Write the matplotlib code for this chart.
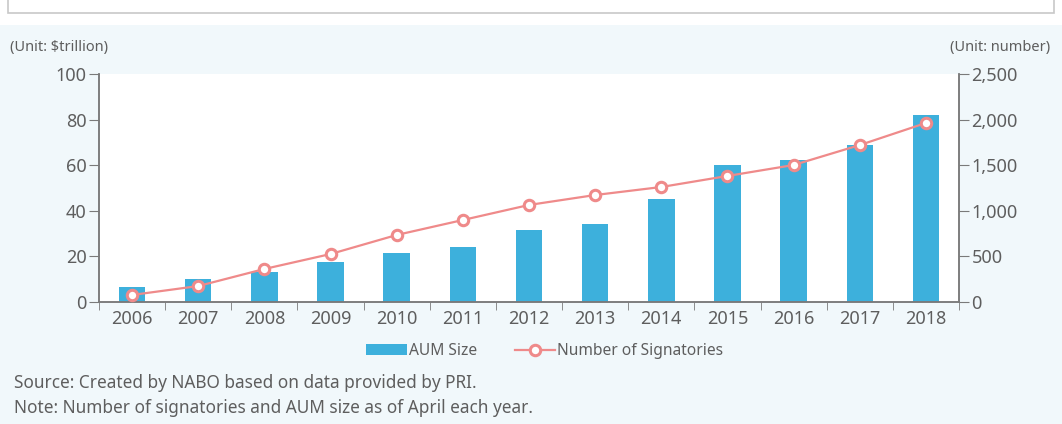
import matplotlib
matplotlib.use("Agg")
from matplotlib import pyplot as plt
from matplotlib.patches import Rectangle
import numpy as np

years = ['2006', '2007', '2008', '2009', '2010', '2011', '2012',
         '2013', '2014', '2015', '2016', '2017', '2018']
aum = [6.5, 10, 13.2, 17.5, 21.5, 24, 31.5, 34, 45, 60, 62.3, 69, 82]
signatories = [77, 175, 362, 526, 735, 899, 1064, 1173, 1261, 1382, 1502, 1721, 1963]

bar_color = '#3db0dc'
line_color = '#ef8a8a'
text_color = '#5e5e5e'
axis_color = '#7a7a7a'
bg = '#f1f8fb'

plt.rcParams['font.family'] = ['Noto Sans', 'DejaVu Sans']

fig = plt.figure(figsize=(10.62, 4.24), dpi=100)
fig.patch.set_facecolor(bg)

# white strip with the title box at the top
fig.patches.append(Rectangle((0, (424 - 25) / 424), 1, 25 / 424, transform=fig.transFigure,
                             facecolor='white', edgecolor='none', zorder=-5))
fig.patches.append(Rectangle((0.008, (424 - 13) / 424), 0.984, 0.06, transform=fig.transFigure,
                             facecolor='white', edgecolor='#c8c8c8', linewidth=1.2, zorder=-4))

ax = fig.add_axes([99 / 1062, (424 - 302) / 424, (959 - 99) / 1062, (302 - 74) / 424])
ax.set_facecolor('white')
x = np.arange(len(years))

bars = ax.bar(x, aum, width=0.4, color=bar_color, label='AUM Size', zorder=2)
ax.set_xlim(-0.5, len(years) - 0.5)
ax.set_ylim(0, 100)
ax.set_yticks([0, 20, 40, 60, 80, 100])

ax2 = ax.twinx()
line, = ax2.plot(x, signatories, color=line_color, lw=1.6, marker='o', ms=7.5,
                 mfc='white', mec=line_color, mew=2.2, label='Number of Signatories', zorder=3)
ax2.set_ylim(0, 2500)
ax2.set_yticks([0, 500, 1000, 1500, 2000, 2500])
ax2.set_yticklabels(['0', '500', '1,000', '1,500', '2,000', '2,500'])

ax.set_xticks(x)
ax.set_xticklabels(years)
ax.set_xticks(np.arange(-0.5, len(years), 1), minor=True)
ax.tick_params(axis='x', which='major', length=0, labelsize=13, colors=text_color, pad=6)
ax.tick_params(axis='x', which='minor', length=6, color=axis_color, direction='out')
ax.tick_params(axis='y', length=7, color=axis_color, labelsize=13, labelcolor=text_color, pad=2)
ax2.tick_params(axis='y', length=7, color=axis_color, labelsize=13, labelcolor=text_color, pad=2)
for lbl in ax.get_xticklabels() + ax.get_yticklabels() + ax2.get_yticklabels():
    lbl.set_fontweight('light')

for a in (ax, ax2):
    a.spines['top'].set_visible(False)
    for s in ('left', 'right', 'bottom'):
        a.spines[s].set_color(axis_color)
        a.spines[s].set_linewidth(1.1)

fig.text(10 / 1062, 1 - 47 / 424, '(Unit: $trillion)', fontsize=10.5, color=text_color, va='center')
fig.text(1050 / 1062, 1 - 47 / 424, '(Unit: number)', fontsize=10.5, color=text_color,
         va='center', ha='right')

leg = fig.legend([bars, line], ['AUM Size', 'Number of Signatories'], loc='center',
                 bbox_to_anchor=(545 / 1062, 1 - 351 / 424), ncol=2, frameon=False,
                 fontsize=11.2, labelcolor=text_color, handlelength=2.6, handletextpad=0.15,
                 columnspacing=2.4)

fig.text(14 / 1062, 1 - 383 / 424, 'Source: Created by NABO based on data provided by PRI.',
         fontsize=12.4, color=text_color, va='center')
fig.text(14 / 1062, 1 - 408 / 424, 'Note: Number of signatories and AUM size as of April each year.',
         fontsize=12.4, color=text_color, va='center')

fig.savefig('out.png', dpi=100, facecolor=fig.get_facecolor())
